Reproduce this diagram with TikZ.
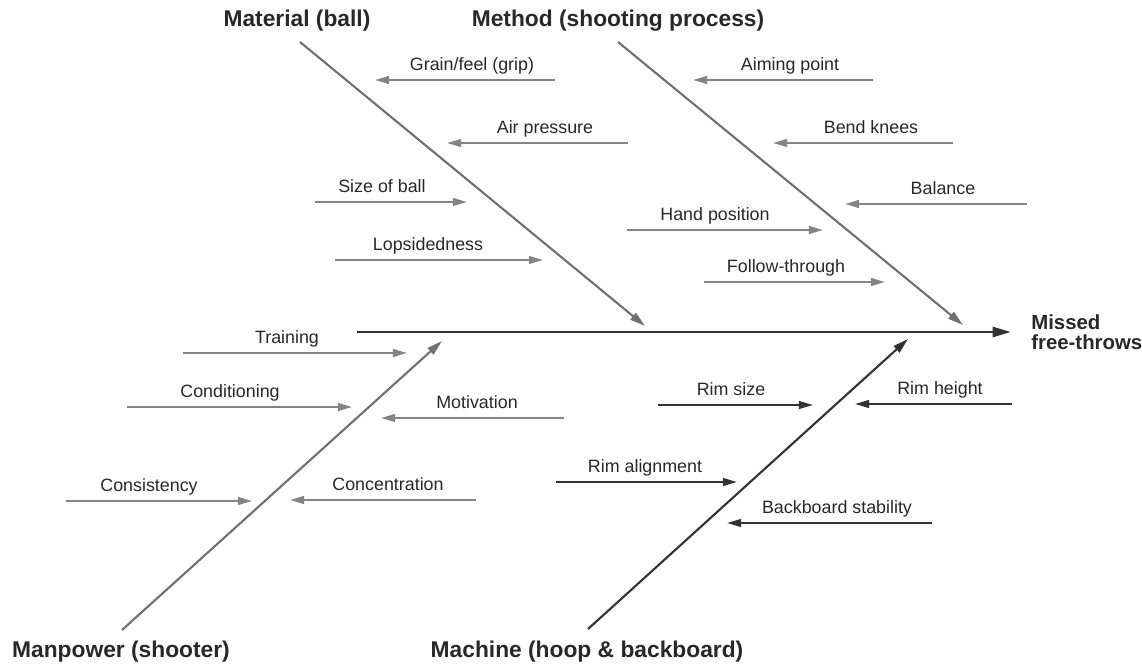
\documentclass[tikz,border=0pt]{standalone}
\usepackage{fontspec}
\setmainfont{Liberation Sans}
\usetikzlibrary{arrows.meta}
\definecolor{bonegray}{RGB}{112,112,112}
\definecolor{causegray}{RGB}{132,132,132}
\definecolor{darkline}{RGB}{50,50,50}
\definecolor{inkgray}{RGB}{40,40,40}

\begin{document}
\begin{tikzpicture}[x=0.025cm,y=-0.025cm,
  bone/.style={line width=1.5pt,bonegray,-{Triangle[length=11pt,width=6pt]}},
  darkbone/.style={line width=1.5pt,darkline,-{Triangle[length=11pt,width=6pt]}},
  cause/.style={line width=1.4pt,causegray,-{Triangle[length=10pt,width=5.5pt]}},
  darkcause/.style={line width=1.4pt,darkline,-{Triangle[length=10pt,width=5.5pt]}},
  lbl/.style={anchor=base,inner sep=0pt,text=inkgray,font=\fontsize{12.7}{14}\selectfont},
  title/.style={anchor=base,inner sep=0pt,text=inkgray,font=\bfseries\fontsize{16.2}{18}\selectfont}]
\useasboundingbox (0,0) rectangle (1142,664);

% Spine and effect
\coordinate (spineS) at (357,332);
\coordinate (spineE) at (1011,332);
\draw[line width=2pt,darkline,-{Triangle[length=13pt,width=7pt]}] (spineS) -- (spineE);
\node[anchor=west,inner sep=0pt,align=left,text=inkgray,
  font=\bfseries\fontsize{14.5}{14.2}\selectfont] (effect) at (1031,332) {Missed\\free-throws};

% Bones
\coordinate (matS) at (300,42);   \coordinate (matE) at (645,326);
\coordinate (metS) at (618,42);   \coordinate (metE) at (963,325);
\coordinate (manS) at (122,630);  \coordinate (manE) at (442,341);
\coordinate (macS) at (588,629);  \coordinate (macE) at (908,339);
\draw[bone] (matS) -- (matE);
\draw[bone] (metS) -- (metE);
\draw[bone] (manS) -- (manE);
\draw[darkbone] (macS) -- (macE);

% Bone titles
\node[title] (material) at (297,26) {Material (ball)};
\node[title] (method) at (618,26) {Method (shooting process)};
\node[title] (manpower) at (121,657) {Manpower (shooter)};
\node[title] (machine) at (587,657) {Machine (hoop \& backboard)};

% Material causes
\coordinate (grainS) at (555,80);  \coordinate (grainE) at (375,80);
\draw[cause] (grainS) -- (grainE);
\node[lbl] (grain) at (472,70) {Grain/feel (grip)};
\coordinate (airS) at (628,143);  \coordinate (airE) at (447,143);
\draw[cause] (airS) -- (airE);
\node[lbl] (air) at (545,133) {Air pressure};
\coordinate (sizeS) at (315,202);  \coordinate (sizeE) at (467,202);
\draw[cause] (sizeS) -- (sizeE);
\node[lbl] (size) at (382,192) {Size of ball};
\coordinate (lopS) at (335,260);  \coordinate (lopE) at (543,260);
\draw[cause] (lopS) -- (lopE);
\node[lbl] (lop) at (428,250) {Lopsidedness};

% Method causes
\coordinate (aimS) at (873,80);  \coordinate (aimE) at (693,80);
\draw[cause] (aimS) -- (aimE);
\node[lbl] (aim) at (790,70) {Aiming point};
\coordinate (bendS) at (953,143);  \coordinate (bendE) at (773,143);
\draw[cause] (bendS) -- (bendE);
\node[lbl] (bend) at (871,133) {Bend knees};
\coordinate (balS) at (1027,204);  \coordinate (balE) at (845,204);
\draw[cause] (balS) -- (balE);
\node[lbl] (bal) at (943,194) {Balance};
\coordinate (handS) at (627,230);  \coordinate (handE) at (823,230);
\draw[cause] (handS) -- (handE);
\node[lbl] (hand) at (715,220) {Hand position};
\coordinate (follS) at (704,282);  \coordinate (follE) at (885,282);
\draw[cause] (follS) -- (follE);
\node[lbl] (foll) at (786,272) {Follow-through};

% Manpower causes
\coordinate (trainS) at (183,353);  \coordinate (trainE) at (407,353);
\draw[cause] (trainS) -- (trainE);
\node[lbl] (train) at (287,343) {Training};
\coordinate (condS) at (127,407);  \coordinate (condE) at (352,407);
\draw[cause] (condS) -- (condE);
\node[lbl] (cond) at (230,397) {Conditioning};
\coordinate (motS) at (564,418);  \coordinate (motE) at (381,418);
\draw[cause] (motS) -- (motE);
\node[lbl] (mot) at (477,408) {Motivation};
\coordinate (consS) at (66,501);  \coordinate (consE) at (252,501);
\draw[cause] (consS) -- (consE);
\node[lbl] (cons) at (149,491) {Consistency};
\coordinate (concS) at (476,500);  \coordinate (concE) at (290,500);
\draw[cause] (concS) -- (concE);
\node[lbl] (conc) at (388,490) {Concentration};

% Machine causes
\coordinate (rsizeS) at (658,405);  \coordinate (rsizeE) at (813,405);
\draw[darkcause] (rsizeS) -- (rsizeE);
\node[lbl] (rsize) at (731,395) {Rim size};
\coordinate (rhS) at (1012,404);  \coordinate (rhE) at (855,404);
\draw[darkcause] (rhS) -- (rhE);
\node[lbl] (rh) at (940,394) {Rim height};
\coordinate (ralS) at (556,482);  \coordinate (ralE) at (737,482);
\draw[darkcause] (ralS) -- (ralE);
\node[lbl] (ral) at (645,472) {Rim alignment};
\coordinate (bbS) at (932,523);  \coordinate (bbE) at (727,523);
\draw[darkcause] (bbS) -- (bbE);
\node[lbl] (bb) at (837,513) {Backboard stability};
\end{tikzpicture}
\end{document}
